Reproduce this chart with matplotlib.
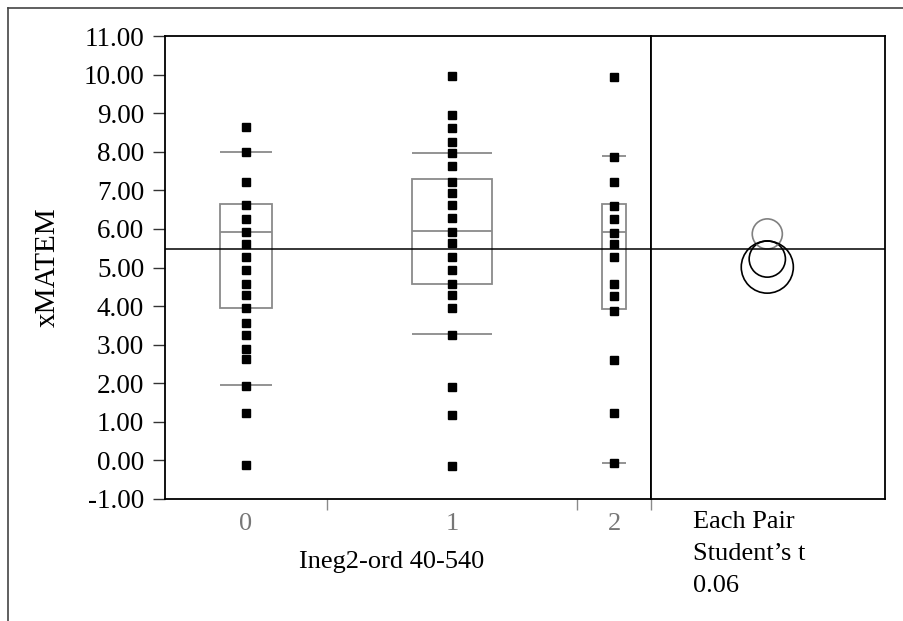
import numpy as np
import matplotlib
matplotlib.use("Agg")
import matplotlib.pyplot as plt
from matplotlib.patches import Rectangle, Circle
from matplotlib.lines import Line2D

plt.rcParams['font.family'] = ['Liberation Serif', 'DejaVu Serif']

# data
groups = ['0', '1', '2']
group_sizes = [33, 51, 15]   # relative group widths on the x axis
g0 = [8.64, 8.0, 7.22, 6.63, 6.25, 5.92, 5.61, 5.27, 4.94, 4.58, 4.28, 3.94,
      3.57, 3.26, 2.90, 2.62, 1.94, 1.22, -0.11]
g1 = [9.97, 8.95, 8.62, 8.25, 7.96, 7.63, 7.22, 6.93, 6.63, 6.28, 5.92, 5.63,
      5.27, 4.94, 4.58, 4.28, 3.94, 3.26, 1.91, 1.18, -0.14]
g2 = [9.94, 7.86, 7.22, 6.59, 6.25, 5.89, 5.61, 5.27, 4.56, 4.26, 3.88, 2.61,
      1.22, -0.07]
points = [g0, g1, g2]
p10 = [1.96, 3.27, -0.06]
q1 = [3.94, 4.58, 3.93]
med = [5.92, 5.94, 5.91]
q3 = [6.65, 7.29, 6.64]
p90 = [8.0, 7.98, 7.89]
grand_mean = 5.49
group_means = [5.22, 5.87, 5.01]
circle_radii = [0.47, 0.39, 0.675]
circle_colors = ['black', '#808080', 'black']

W, H = 904, 621
fig = plt.figure(figsize=(W / 100, H / 100), dpi=100)
L, R, RR, T, B = 165, 651, 885, 36, 499
ax = fig.add_axes([L / W, 1 - B / H, (R - L) / W, (B - T) / H])
ax2 = fig.add_axes([R / W, 1 - B / H, (RR - R) / W, (B - T) / H])

edges = np.concatenate([[0], np.cumsum(group_sizes)])
centers = (edges[:-1] + edges[1:]) / 2
gray = '#8a8a8a'

for i in range(3):
    c = centers[i]
    bw = group_sizes[i] * 0.32
    ax.add_patch(Rectangle((c - bw / 2, q1[i]), bw, q3[i] - q1[i],
                           fill=False, edgecolor=gray, lw=1.3, zorder=2))
    ax.hlines([med[i], p10[i], p90[i]], c - bw / 2, c + bw / 2,
              colors=gray, lw=1.3, zorder=2)
    ax.plot([c] * len(points[i]), points[i], 's', color='black',
            ms=5.4, zorder=3)

ax.axhline(grand_mean, color='black', lw=1.1, zorder=4)
ax.set_xlim(edges[0], edges[-1])
ax.set_ylim(-1, 11)
ax.set_yticks(np.arange(-1, 12, 1))
ax.set_yticklabels([f'{v:.2f}' for v in np.arange(-1, 12, 1)], fontsize=19.5)
ax.tick_params(axis='y', length=9, width=1, color='#333333', pad=6)

ax.set_xticks(edges[1:])
ax.set_xticklabels([])
ax.tick_params(axis='x', which='major', length=8, width=1, color=gray)
ax.set_xticks(centers, minor=True)
ax.set_xticklabels(groups, minor=True, fontsize=19, color='#777777')
ax.tick_params(axis='x', which='minor', length=0, pad=10)
ax.xaxis.get_major_ticks()[-1].tick1line.set_color('black')
for s in ax.spines.values():
    s.set_linewidth(1.3)
ax.set_ylabel('xMATEM', fontsize=21, labelpad=16)

# comparison circles panel
span = 12 * (RR - R) / (B - T)
ax2.set_xlim(0, span)
ax2.set_ylim(-1, 11)
ax2.axhline(grand_mean, color='black', lw=1.1)
for m, r, col in zip(group_means, circle_radii, circle_colors):
    ax2.add_patch(Circle((span * 0.497, m), r, fill=False, edgecolor=col, lw=1.2))
ax2.set_xticks([])
ax2.set_yticks([])
for s in ax2.spines.values():
    s.set_linewidth(1.3)

fig.text(392 / W, 1 - 562 / H, 'Ineg2-ord 40-540', fontsize=19,
         ha='center', va='center')
for txt, yb in zip(['Each Pair', 'Student\u2019s t', '0.06'], [528, 560, 592]):
    fig.text(693 / W, 1 - yb / H, txt, fontsize=19, ha='left', va='baseline')

fig.add_artist(Line2D([8 / W, 8 / W], [0, 1 - 8 / H], color='#444444', lw=1.2))
fig.add_artist(Line2D([8 / W, 1], [1 - 8 / H, 1 - 8 / H], color='#444444', lw=1.2))

fig.savefig('out.png', dpi=100)
